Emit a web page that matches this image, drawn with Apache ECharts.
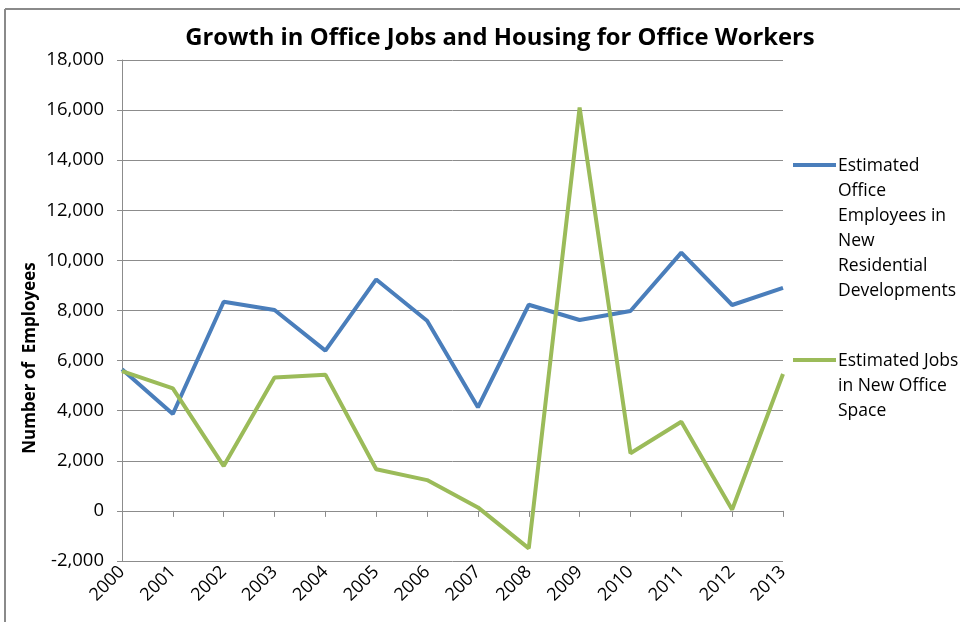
<!DOCTYPE html>
<html>
<head>
<meta charset="utf-8">
<script src="https://cdn.jsdelivr.net/npm/echarts@6/dist/echarts.min.js"></script>
<style>html,body{margin:0;padding:0;background:#fff}#c{width:960px;height:622px}</style>
</head>
<body>
<div id="c"></div>
<script>
var years = ['2000','2001','2002','2003','2004','2005','2006','2007','2008','2009','2010','2011','2012','2013'];
var officeEmployeesResidential = [5650, 3870, 8350, 8020, 6400, 9240, 7590, 4135, 8230, 7620, 7980, 10310, 8220, 8900];
var jobsNewOfficeSpace = [5580, 4890, 1790, 5330, 5440, 1660, 1230, 140, -1495, 16100, 2300, 3560, 50, 5465];
var seriesNames = ['Estimated Office Employees in New Residential Developments', 'Estimated Jobs in New Office Space'];
var legendLines = [['Estimated','Office','Employees in','New','Residential','Developments'], ['Estimated Jobs','in New Office','Space']];
var colors = ['#4A7EBB', '#9BBB59'];

var chart = echarts.init(document.getElementById('c'), null, {renderer:'canvas'});
var font = 'Open Sans';
var gridCol = '#8C8C8C';
var graphics = [
  {type:'line', shape:{x1:5, y1:9, x2:960, y2:9}, style:{stroke:'#8A8A8A', lineWidth:2}},
  {type:'line', shape:{x1:5, y1:9, x2:5, y2:622}, style:{stroke:'#8A8A8A', lineWidth:2}},
  {type:'text', x:30, y:358, rotation:Math.PI/2, style:{text:'Number of  Employees', font:'bold 17px "Open Sans"', fill:'#000', textAlign:'center', textVerticalAlign:'middle'}}
];
var legTops = [165, 360];
for (var i = 0; i < 2; i++) {
  graphics.push({type:'line', shape:{x1:793, y1:legTops[i], x2:836, y2:legTops[i]}, style:{stroke:colors[i], lineWidth:4}});
  graphics.push({type:'text', x:838, y:legTops[i]-11, style:{text:legendLines[i].join('\n'), font:'17.5px "Open Sans"', fill:'#000', lineHeight:25, textVerticalAlign:'top'}});
}
chart.setOption({
  animation:false,
  title:{text:'Growth in Office Jobs and Housing for Office Workers', left:495, top:21, textAlign:'center',
    textStyle:{fontFamily:font, fontWeight:'bold', fontSize:23.8, color:'#000'}},
  grid:{left:122, right:177, top:60, bottom:61},
  xAxis:[
    {type:'category', data:years, boundaryGap:false,
     axisLine:{onZero:true, lineStyle:{color:gridCol, width:1}},
     axisTick:{show:true, length:6, inside:false, lineStyle:{color:gridCol}},
     axisLabel:{show:false}, splitLine:{show:false}},
    {type:'category', data:years, boundaryGap:false, position:'bottom',
     axisLine:{show:false, onZero:false}, axisTick:{show:false},
     axisLabel:{show:true, rotate:45, fontFamily:font, fontSize:18, color:'#000', margin:8, interval:0},
     splitLine:{show:false}}
  ],
  yAxis:{type:'value', min:-2000, max:18000, interval:2000,
    axisLine:{show:true, lineStyle:{color:gridCol}},
    axisTick:{show:true, length:5, lineStyle:{color:gridCol}},
    axisLabel:{fontFamily:font, fontSize:18.5, color:'#000', margin:18,
      formatter:function(v){return v.toLocaleString('en-US');}},
    splitLine:{show:true, lineStyle:{color:gridCol, width:1}}},
  series:[
    {name:seriesNames[0], type:'line', data:officeEmployeesResidential, xAxisIndex:0, symbol:'none',
     lineStyle:{color:colors[0], width:4}, itemStyle:{color:colors[0]}, z:3},
    {name:seriesNames[1], type:'line', data:jobsNewOfficeSpace, xAxisIndex:0, symbol:'none',
     lineStyle:{color:colors[1], width:4}, itemStyle:{color:colors[1]}, z:4}
  ],
  graphic:graphics
});
</script>
</body>
</html>
